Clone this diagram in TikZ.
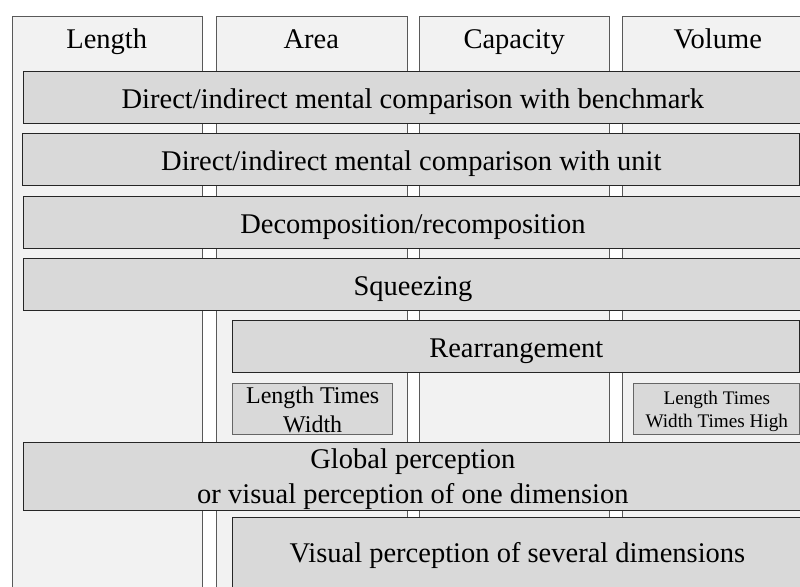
\documentclass[tikz,border=0pt]{standalone}
\usepackage{fontspec}
\setmainfont{Liberation Serif}
\definecolor{colfill}{HTML}{F2F2F2}
\definecolor{barfill}{HTML}{D9D9D9}
\tikzstyle{column} = [fill=colfill, draw=black!65, rectangle, anchor=north west, inner sep=0pt, line width=1pt, minimum height=600pt]
\tikzstyle{head} = [anchor=base, font=\fontsize{28.5}{35}\selectfont]
\tikzstyle{bar} = [fill=barfill, draw=black!85, rectangle, anchor=north west, inner sep=0pt, line width=1pt, minimum height=52pt, text height=22pt, text depth=0pt, align=center, font=\fontsize{28.5}{35}\selectfont]
\tikzstyle{small} = [fill=barfill, draw=black!60, rectangle, anchor=north west, inner sep=0pt, line width=1pt, minimum height=51.6pt, text depth=0pt, align=center]

\begin{document}
\begin{tikzpicture}[x=1pt, y=-1pt]
    \useasboundingbox (0,0) rectangle (800,586);
    \clip (0,0) rectangle (800,586);
    % Columns
    \node [column, minimum width=190pt] (length) at (11.7,15.7) {};
    \node [column, minimum width=190.7pt] (area) at (216,15.7) {};
    \node [column, minimum width=190.3pt] (capacity) at (419,15.7) {};
    \node [column, minimum width=191pt] (volume) at (622.3,15.7) {};
    \node [head] (length_t) at (106.7,48.3) {Length};
    \node [head] (area_t) at (311.3,48.3) {Area};
    \node [head] (capacity_t) at (514.2,48.3) {Capacity};
    \node [head] (volume_t) at (717.8,48.3) {Volume};
    % Place bars
    \node [bar, minimum width=778.2pt] (benchmark) at (23.3,71) {Direct/indirect mental comparison with benchmark};
    \node [bar, minimum width=777pt] (unit) at (22.3,133.3) {Direct/indirect mental comparison with unit};
    \node [bar, minimum width=778.2pt] (decomp) at (23.3,196) {Decomposition/recomposition};
    \node [bar, minimum width=778.2pt] (squeeze) at (23.3,258.3) {Squeezing};
    \node [bar, minimum width=567pt] (rearrange) at (232.3,320.3) {Rearrangement};
    \node [small, minimum width=159.7pt, text height=46.4pt,
           font=\fontsize{24}{28.4}\selectfont] (ltw) at (232.3,382.7) {Length Times\\Width};
    \node [small, minimum width=166pt, text height=36.8pt,
           font=\fontsize{19.2}{22.7}\selectfont] (ltwth) at (633.3,382.7) {Length Times\\Width Times High};
    \node [bar, minimum width=778.2pt, minimum height=68.6pt, text height=54.6pt] (global) at (23.3,441.7) {Global perception\\or visual perception of one dimension};
    \node [bar, minimum width=569.2pt, minimum height=82.7pt, text depth=16pt] (visual) at (232.3,517.3) {Visual perception of several dimensions};
\end{tikzpicture}
\end{document}
